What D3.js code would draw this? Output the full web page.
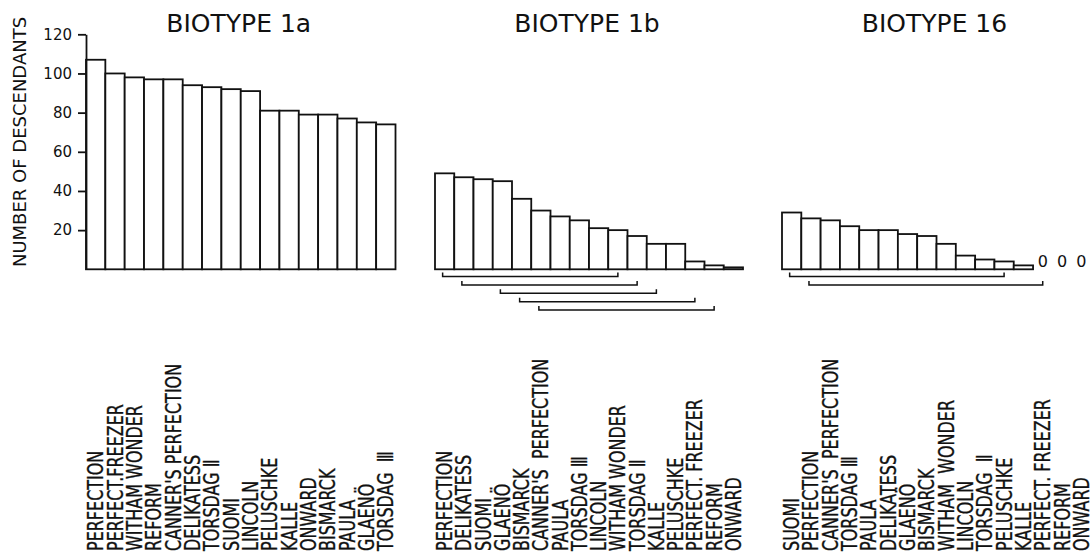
<!DOCTYPE html>
<meta charset='utf-8'>
<style>
  body { margin: 0; background: #fff; }
  text { font-family: 'DejaVu Sans', sans-serif; fill: #111; }
  .names text { stroke: #111; stroke-width: 0.35px; }
  .bars rect { fill: #fff; stroke: #111; stroke-width: 1.8px; }
  .brackets path { fill: none; stroke: #111; stroke-width: 1.5px; }
  .axis path, .axis line { stroke: #111; stroke-width: 1.8px; }
  .axis text { font-size: 15px; }
</style>
<svg width='1092' height='560'></svg>
<script src='https://cdn.jsdelivr.net/npm/d3@7/dist/d3.min.js'></script>
<script>
  // biotype 1a
  var names1a = ['PERFECTION', 'PERFECT.FREEZER', 'WITHAM WONDER', 'REFORM', "CANNER'S PERFECTION",
    'DELIKATESS', 'TORSDAG \u2161', 'SUOMI', 'LINCOLN', 'PELUSCHKE', 'KALLE', 'ONWARD',
    'BISMARCK', 'PAULA', 'GLAENÖ', 'TORSDAG  \u2162'];
  var values1a = [107, 100, 98, 97, 97, 94, 93, 92, 91, 81, 81, 79, 79, 77, 75, 74];
  var brackets1a = [];

  // biotype 1b
  var names1b = ['PERFECTION', 'DELIKATESS', 'SUOMI', 'GLAENÖ', 'BISMARCK', "CANNER'S  PERFECTION",
    'PAULA', 'TORSDAG \u2162', 'LINCOLN', 'WITHAM WONDER', 'TORSDAG \u2161', 'KALLE',
    'PELUSCHKE', 'PERFECT. FREEZER', 'REFORM', 'ONWARD'];
  var values1b = [49, 47, 46, 45, 36, 30, 27, 25, 21, 20, 17, 13, 13, 4, 2, 1];
  var brackets1b = [[0, 9], [1, 10], [3, 11], [4, 13], [5, 14]];

  // biotype 16
  var names16 = ['SUOMI', 'PERFECTION', "CANNER'S  PERFECTION", 'TORSDAG \u2162', 'PAULA', 'DELIKATESS',
    'GLAENÖ', 'BISMARCK', 'WITHAM  WONDER', 'LINCOLN', 'TORSDAG  \u2161', 'PELUSCHKE', 'KALLE',
    'PERFECT. FREEZER', 'REFORM', 'ONWARD'];
  var values16 = [29, 26, 25, 22, 20, 20, 18, 17, 13, 7, 5, 4, 2, 0, 0, 0];
  var brackets16 = [[0, 11], [1, 13]];

  var titles = ['BIOTYPE 1a', 'BIOTYPE 1b', 'BIOTYPE 16'];
  var yTicks = [20, 40, 60, 80, 100, 120];

  var svg = d3.select('svg');

  var y = d3.scaleLinear().domain([0, 120]).range([269.3, 34.3]);

  var panels = [
    {title: titles[0], names: names1a, values: values1a, brackets: brackets1a, x0: 86, x1: 395.5},
    {title: titles[1], names: names1b, values: values1b, brackets: brackets1b, x0: 435, x1: 743},
    {title: titles[2], names: names16, values: values16, brackets: brackets16, x0: 782, x1: 1091}
  ];

  panels.forEach(function(p) {
    var x = d3.scaleBand().domain(d3.range(p.names.length)).range([p.x0, p.x1]).padding(0);
    var mid = function(i) { return x(i) + x.bandwidth() / 2; };
    var g = svg.append('g');

    g.append('text')
      .attr('x', (p.x0 + p.x1) / 2 - 2)
      .attr('y', 32)
      .attr('text-anchor', 'middle')
      .style('font-size', '25px')
      .text(p.title);

    g.append('g').attr('class', 'bars')
      .selectAll('rect')
      .data(p.values.map(function(v, i) { return {v: v, i: i}; }).filter(function(d) { return d.v > 0; }))
      .enter().append('rect')
        .attr('x', function(d) { return x(d.i); })
        .attr('width', x.bandwidth())
        .attr('y', function(d) { return y(d.v); })
        .attr('height', function(d) { return y(0) - y(d.v); });

    g.selectAll('.zero')
      .data(p.values.map(function(v, i) { return {v: v, i: i}; }).filter(function(d) { return d.v === 0; }))
      .enter().append('text')
        .attr('class', 'zero')
        .attr('x', function(d) { return mid(d.i); })
        .attr('y', 267)
        .attr('text-anchor', 'middle')
        .style('font-size', '16px')
        .text('0');

    g.append('g').attr('class', 'brackets')
      .selectAll('path')
      .data(p.brackets)
      .enter().append('path')
        .attr('d', function(d, k) {
          var yy = 276.5 + k * 8.4, a = mid(d[0]) - 2, b = mid(d[1]);
          return 'M' + a + ',' + (yy - 4) + 'V' + yy + 'H' + b + 'V' + (yy - 4);
        });

    g.append('g').attr('class', 'names')
      .selectAll('text')
      .data(p.names)
      .enter().append('text')
        .attr('transform', function(d, i) {
          return 'translate(' + (mid(i) + 7.5) + ',551) rotate(-90) scale(0.78,1)';
        })
        .style('font-size', '20.5px')
        .style('white-space', 'pre')
        .text(function(d) { return d; });
  });

  svg.append('g')
    .attr('class', 'axis')
    .attr('transform', 'translate(86,0)')
    .call(d3.axisLeft(y).tickValues(yTicks).tickSize(8).tickSizeOuter(0).tickPadding(6))
    .call(function(a) { a.selectAll('text').style('font-family', "'DejaVu Sans', sans-serif").attr('fill', '#111'); });

  svg.append('text')
    .attr('transform', 'translate(26,142) rotate(-90)')
    .attr('text-anchor', 'middle')
    .style('font-size', '18px')
    .text('NUMBER OF DESCENDANTS');
</script>
